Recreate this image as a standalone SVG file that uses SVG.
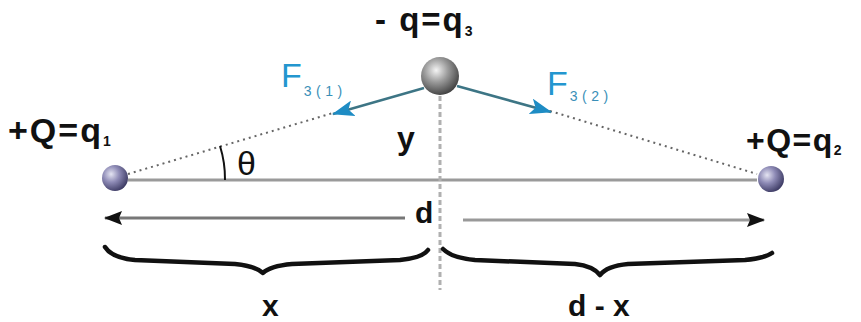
<svg xmlns="http://www.w3.org/2000/svg" width="861" height="322" viewBox="0 0 861 322">
<style>
.lbl{font-family:"Liberation Sans",Arial,sans-serif;font-weight:bold;fill:#111}
.sub{font-size:14px}
.f{font-family:"Liberation Sans",Arial,sans-serif;fill:#2396cf;font-size:34px}
.fsub{font-size:14px;letter-spacing:4.5px;fill:#3a8fb8}
.dot{stroke:#666;stroke-width:2;stroke-dasharray:2 4;fill:none}
.brace{stroke:#111;stroke-width:4.5;fill:none;stroke-linecap:round;stroke-linejoin:round}
</style>
<defs>
<radialGradient id="gs" cx="0.35" cy="0.35" r="0.7">
<stop offset="0" stop-color="#e4e4f2"/>
<stop offset="0.45" stop-color="#8e8bb6"/>
<stop offset="1" stop-color="#3c3a63"/>
</radialGradient>
<radialGradient id="gt" cx="0.4" cy="0.35" r="0.7">
<stop offset="0" stop-color="#f4f4f4"/>
<stop offset="0.45" stop-color="#9a9a9a"/>
<stop offset="1" stop-color="#3a3a3a"/>
</radialGradient>
<marker id="ab" markerWidth="18" markerHeight="14" refX="17" refY="7" orient="auto" markerUnits="userSpaceOnUse" viewBox="0 0 18 14">
<path d="M0,0 L18,7 L0,14 L3,7 Z" fill="#111"/>
</marker>
<marker id="af" markerWidth="22" markerHeight="16" refX="21" refY="8" orient="auto" markerUnits="userSpaceOnUse" viewBox="0 0 22 16">
<path d="M0,0 L22,8 L0,16 L5,8 Z" fill="#1e8cc4"/>
</marker>
</defs>
<g id="connectors">
<line x1="128" y1="180" x2="757" y2="180" stroke="#9a9a9a" stroke-width="3"/>
<line x1="440" y1="96" x2="440" y2="290" stroke="#b0b0b0" stroke-width="3" stroke-dasharray="5 3"/>
<line class="dot" x1="128" y1="174" x2="333" y2="113"/>
<line class="dot" x1="550" y1="111" x2="757" y2="174"/>
<line x1="424" y1="88" x2="333" y2="114" stroke="#3d7585" stroke-width="2.5" marker-end="url(#af)"/>
<line x1="457" y1="86" x2="551" y2="112" stroke="#3d7585" stroke-width="2.5" marker-end="url(#af)"/>
<path d="M220,146 A110,110 0 0 1 225,180" stroke="#111" stroke-width="2" fill="none"/>
<line x1="405" y1="218" x2="105" y2="218" stroke="#777" stroke-width="3" marker-end="url(#ab)"/>
<line x1="463" y1="220" x2="764" y2="220" stroke="#999" stroke-width="3" marker-end="url(#ab)"/>
<path class="brace" d="M105,247 Q112,258 135,260 L235,264 Q255,266 263,273 Q270,266 292,264 L400,260 Q422,258 428,250"/>
<path class="brace" d="M443,249 Q452,258 475,260 L575,264 Q593,266 600,275 Q607,266 628,264 L745,260 Q765,258 772,253"/>
</g>
<g id="q1">
<circle cx="115" cy="178" r="13" fill="url(#gs)"/>
<text class="lbl" x="8" y="142" font-size="34" letter-spacing="2">+Q=q<tspan class="sub" dy="4">1</tspan></text>
</g>
<g id="q2">
<circle cx="771" cy="179" r="13" fill="url(#gs)"/>
<text class="lbl" x="746" y="151" font-size="32" letter-spacing="1.5">+Q=q<tspan class="sub" dy="4">2</tspan></text>
</g>
<g id="q3">
<circle cx="440" cy="76" r="19" fill="url(#gt)"/>
<text class="lbl" x="375" y="31" font-size="33" letter-spacing="2">- q=q<tspan class="sub" dy="5">3</tspan></text>
</g>
<g id="labels">
<text class="f" x="281" y="87">F<tspan class="fsub" dx="2" dy="9">3(1)</tspan></text>
<text class="f" x="547" y="95">F<tspan class="fsub" dx="2" dy="6">3(2)</tspan></text>
<text class="lbl" x="397" y="149" font-size="32">y</text>
<text x="237" y="175" font-family="Liberation Sans,Arial,sans-serif" font-size="34" fill="#111">θ</text>
<text class="lbl" x="415" y="223" font-size="30">d</text>
<text class="lbl" x="262" y="316" font-size="30">x</text>
<text class="lbl" x="568" y="316" font-size="30">d - x</text>
</g>
</svg>
